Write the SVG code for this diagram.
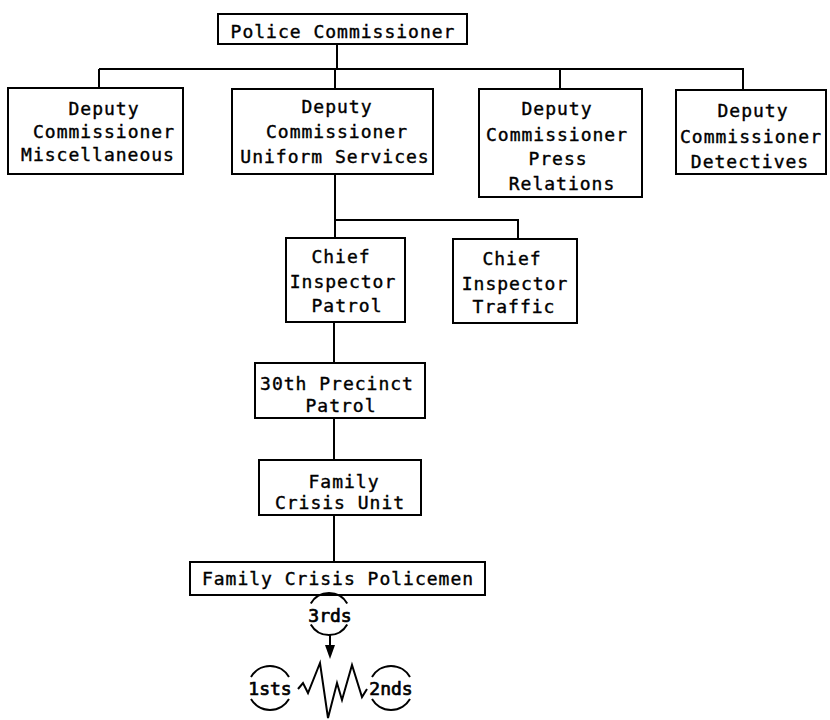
<svg xmlns="http://www.w3.org/2000/svg" width="830" height="720" viewBox="0 0 830 720">
  <defs>
    <style>
      .box { fill: #ffffff; stroke: #000000; stroke-width: 2; }
      .wire { fill: none; stroke: #000000; stroke-width: 2; }
      .arc { fill: none; stroke: #000000; stroke-width: 2; }
      text { font-family: "DejaVu Sans Mono", "Liberation Mono", monospace; font-size: 18px; fill: #000000; stroke: #000000; stroke-width: 0.4px; text-anchor: middle; letter-spacing: 1px; }
      .tight { letter-spacing: 0px; stroke-width: 0.7px; }
    </style>
  </defs>
  <rect width="830" height="720" fill="#ffffff"/>

  <!-- reporting lines -->
  <g id="connectors">
    <path class="wire" d="M337,44 V69"/>
    <path class="wire" d="M99,69 H744"/>
    <path class="wire" d="M99,69 V88"/>
    <path class="wire" d="M335,69 V89"/>
    <path class="wire" d="M560,69 V89"/>
    <path class="wire" d="M743,69 V90"/>
    <path class="wire" d="M335,174 V238"/>
    <path class="wire" d="M335,220 H518 V239"/>
    <path class="wire" d="M334,322 V363"/>
    <path class="wire" d="M334,418 V460"/>
    <path class="wire" d="M334,515 V562"/>
    <path class="wire" d="M330,635 V647"/>
    <path d="M325,645 L335,645 L330,659 Z" fill="#000000"/>
  </g>

  <g id="police-commissioner">
    <rect class="box" x="218" y="14" width="249" height="30"/>
    <text x="343" y="38">Police Commissioner</text>
  </g>

  <g id="dc-miscellaneous">
    <rect class="box" x="8" y="88" width="175" height="86"/>
    <text x="104" y="115">Deputy</text>
    <text x="104" y="138">Commissioner</text>
    <text x="98" y="161">Miscellaneous</text>
  </g>

  <g id="dc-uniform-services">
    <rect class="box" x="232" y="89" width="201" height="85"/>
    <text x="337" y="113">Deputy</text>
    <text x="337" y="138">Commissioner</text>
    <text x="335" y="163">Uniform Services</text>
  </g>

  <g id="dc-press-relations">
    <rect class="box" x="479" y="89" width="163" height="108"/>
    <text x="557" y="115">Deputy</text>
    <text x="557" y="141">Commissioner</text>
    <text x="558" y="165">Press</text>
    <text x="562" y="190">Relations</text>
  </g>

  <g id="dc-detectives">
    <rect class="box" x="676" y="90" width="150" height="84"/>
    <text x="753" y="117">Deputy</text>
    <text x="751" y="143">Commissioner</text>
    <text x="750" y="168">Detectives</text>
  </g>

  <g id="ci-patrol">
    <rect class="box" x="286" y="238" width="119" height="84"/>
    <text x="341" y="263">Chief</text>
    <text x="343" y="288">Inspector</text>
    <text x="347" y="312">Patrol</text>
  </g>

  <g id="ci-traffic">
    <rect class="box" x="453" y="239" width="124" height="84"/>
    <text x="512" y="265">Chief</text>
    <text x="515" y="290">Inspector</text>
    <text x="514" y="313">Traffic</text>
  </g>

  <g id="precinct-30-patrol">
    <rect class="box" x="255" y="363" width="170" height="55"/>
    <text x="337" y="390">30th Precinct</text>
    <text x="341" y="412">Patrol</text>
  </g>

  <g id="family-crisis-unit">
    <rect class="box" x="259" y="460" width="162" height="55"/>
    <text x="344" y="488">Family</text>
    <text x="340" y="509">Crisis Unit</text>
  </g>

  <g id="family-crisis-policemen">
    <rect class="box" x="190" y="562" width="295" height="33"/>
    <text x="338" y="585">Family Crisis Policemen</text>
  </g>

  <!-- shift rotation: 3rds down into the conflict, flanked by 1sts and 2nds -->
  <g id="shift-3rds">
    <path class="arc" d="M310.8,603.5 A21,21 0 0 1 347.2,603.5"/>
    <path class="arc" d="M310.8,624.5 A21,21 0 0 0 347.2,624.5"/>
    <text class="tight" x="330" y="622">3rds</text>
  </g>

  <g id="shift-1sts">
    <path class="arc" d="M251,677 A22,22 0 0 1 289,677"/>
    <path class="arc" d="M251,699 A22,22 0 0 0 289,699"/>
    <text class="tight" x="270" y="695">1sts</text>
  </g>

  <g id="shift-2nds">
    <path class="arc" d="M372,677 A22,22 0 0 1 410,677"/>
    <path class="arc" d="M372,699 A22,22 0 0 0 410,699"/>
    <text class="tight" x="391" y="695">2nds</text>
  </g>

  <g id="conflict-zigzag">
    <polyline class="wire" stroke-linejoin="miter" points="298,689 303,683 308,693 320,663 328,718 337,683 342,700 352,665 362,697 367,689"/>
  </g>
</svg>
